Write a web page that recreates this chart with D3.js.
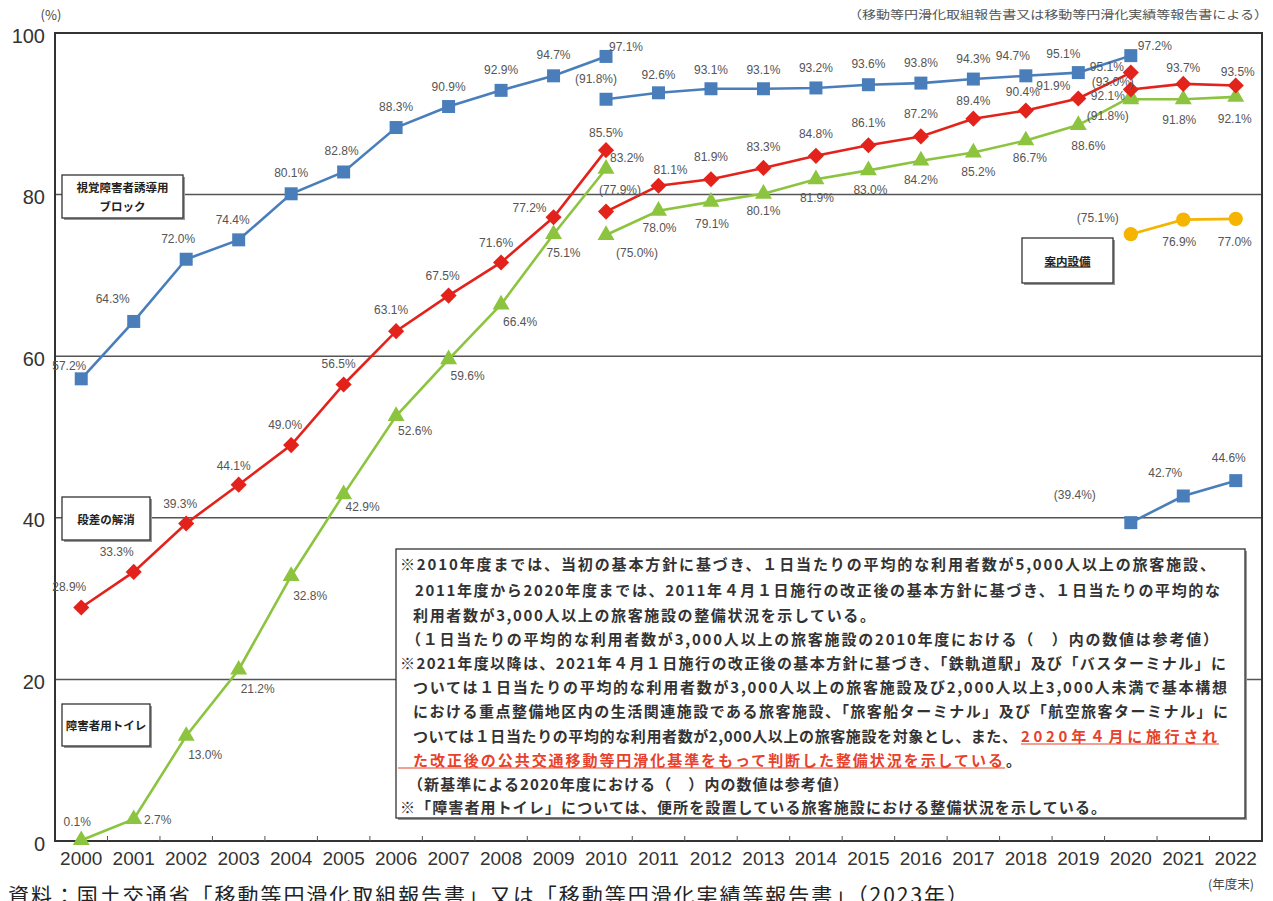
<!DOCTYPE html>
<html>
<head>
<meta charset="utf-8">
<script src="https://cdn.jsdelivr.net/npm/d3@7"></script>
<style>
  body { margin: 0; background: #fff; }
  svg { display: block; }
</style>
</head>
<body>
<div id="chart"></div>
<script>
// categories
const years = ['2000', '2001', '2002', '2003', '2004', '2005', '2006', '2007', '2008', '2009', '2010',
    '2011', '2012', '2013', '2014', '2015', '2016', '2017', '2018', '2019', '2020', '2021', '2022']
const yTicks = [0, 20, 40, 60, 80, 100]

// 視覚障害者誘導用ブロック
const blockOld = [57.2, 64.3, 72.0, 74.4, 80.1, 82.8, 88.3, 90.9, 92.9, 94.7, 97.1]
const blockMid = [91.8, 92.6, 93.1, 93.1, 93.2, 93.6, 93.8, 94.3, 94.7, 95.1, 97.2]
const blockNew = [39.4, 42.7, 44.6]
// 段差の解消
const stepOld = [28.9, 33.3, 39.3, 44.1, 49.0, 56.5, 63.1, 67.5, 71.6, 77.2, 85.5]
const stepMid = [77.9, 81.1, 81.9, 83.3, 84.8, 86.1, 87.2, 89.4, 90.4, 91.9, 95.1]
const stepNew = [93.0, 93.7, 93.5]
// 障害者用トイレ
const toiletOld = [0.1, 2.7, 13.0, 21.2, 32.8, 42.9, 52.6, 59.6, 66.4, 75.1, 83.2]
const toiletMid = [75.0, 78.0, 79.1, 80.1, 81.9, 83.0, 84.2, 85.2, 86.7, 88.6, 92.1]
const toiletNew = [91.8, 91.8, 92.1]
// 案内設備
const guideNew = [75.1, 76.9, 77.0]

// label offsets (px) relative to each marker
const blockOldOff = [[-12, -13], [-21, -22], [-8, -20], [-6, -20], [0, -21], [-2, -21], [0, -21], [0, -20], [0, -20], [0, -21], [20, -9]]
const blockMidOff = [[-10, -20], [0, -18], [0, -19], [0, -19], [0, -20], [0, -21], [0, -20], [0, -20], [-13, -20], [-15, -19], [24, -10]]
const blockNewOff = [[-56, -28], [-18, -23], [-7, -23]]
const stepOldOff = [[-12, -20], [-17, -20], [-6, -19], [-5, -19], [-6, -20], [-5, -20], [-5, -21], [-6, -20], [-5, -19], [-24, -9], [0, -17]]
const stepMidOff = [[14, -22], [12, -16], [0, -22], [0, -21], [0, -22], [0, -22], [0, -22], [0, -18], [-3, -19], [-25, -12], [-24, -6]]
const stepNewOff = [[-18, -8], [0, -16], [2, -14]]
const toiletOldOff = [[-4, -18], [24, 1], [19, 19], [19, 19], [19, 20], [19, 13], [19, 15], [19, 17], [19, 18], [10, 19], [21, -11]]
const toiletMidOff = [[31, 18], [1, 17], [1, 22], [0, 17], [1, 19], [2, 20], [0, 19], [5, 19], [4, 18], [10, 21], [-23, -1]]
const toiletNewOff = [[-23, 17], [-4, 21], [-1, 22]]
const guideNewOff = [[-33, -16], [-4, 22], [-1, 23]]

const noteLines = [
    { x: 400, y: 563, parts: [['※2010年度までは、当初の基本方針に基づき、１日当たりの平均的な利用者数が5,000人以上の旅客施設、', '#333', 815]] },
    { x: 415, y: 589, parts: [['2011年度から2020年度までは、2011年４月１日施行の改正後の基本方針に基づき、１日当たりの平均的な', '#333', 805]] },
    { x: 413, y: 614, parts: [['利用者数が3,000人以上の旅客施設の整備状況を示している。', '#333', 462]] },
    { x: 406, y: 638, parts: [['（１日当たりの平均的な利用者数が3,000人以上の旅客施設の2010年度における（　）内の数値は参考値）', '#333', 812]] },
    { x: 400, y: 662, parts: [['※2021年度以降は、2021年４月１日施行の改正後の基本方針に基づき、「鉄軌道駅」及び「バスターミナル」に', '#333', 826]] },
    { x: 413, y: 686, parts: [['ついては１日当たりの平均的な利用者数が3,000人以上の旅客施設及び2,000人以上3,000人未満で基本構想', '#333', 814]] },
    { x: 413, y: 710, parts: [['における重点整備地区内の生活関連施設である旅客施設、「旅客船ターミナル」及び「航空旅客ターミナル」に', '#333', 815]] },
    { x: 413, y: 735, parts: [['ついては１日当たりの平均的な利用者数が2,000人以上の旅客施設を対象とし、また、', '#333', 604], ['2020年４月に施行され', '#e8412b', 196]] },
    { x: 413, y: 759, parts: [['た改正後の公共交通移動等円滑化基準をもって判断した整備状況を示している', '#e8412b', 590], ['。', '#333', 12]] },
    { x: 408, y: 783, parts: [['（新基準による2020年度における（　）内の数値は参考値）', '#333', 440]] },
    { x: 400, y: 806, parts: [['※「障害者用トイレ」については、便所を設置している旅客施設における整備状況を示している。', '#333', 706]] }
]

const W = 1273, H = 901
const cjk = '"Noto Sans CJK JP", "Noto Sans", sans-serif'
const latin = '"Liberation Sans", Arial, sans-serif'

const svg = d3.select('#chart').append('svg')
    .attr('width', W)
    .attr('height', H)
    .style('background', '#fff')

const x = d3.scaleBand().domain(years).range([55, 1262])
const cx = d => x(d) + x.bandwidth() / 2
const y = d3.scaleLinear().domain([0, 100]).range([841, 33])

// grid lines
svg.append('g').selectAll('line').data([20, 40, 60, 80]).join('line')
    .attr('x1', 55).attr('x2', 1262)
    .attr('y1', d => y(d)).attr('y2', d => y(d))
    .attr('stroke', '#555').attr('stroke-width', 1.5)

// frame
svg.append('rect')
    .attr('x', 55).attr('y', y(100))
    .attr('width', 1262 - 55).attr('height', y(0) - y(100))
    .attr('fill', 'none').attr('stroke', '#333').attr('stroke-width', 2)

// small ticks at band boundaries
svg.append('g').selectAll('line').data(years.slice(1)).join('line')
    .attr('x1', d => x(d)).attr('x2', d => x(d))
    .attr('y1', y(0)).attr('y2', y(0) - 5)
    .attr('stroke', '#555').attr('stroke-width', 1)

// y axis
const yAxis = svg.append('g')
    .attr('transform', 'translate(45,0)')
    .call(d3.axisLeft(y).tickValues(yTicks).tickSize(0).tickPadding(0))
yAxis.select('.domain').remove()
yAxis.selectAll('text')
    .attr('font-family', latin).attr('font-size', 20).attr('fill', '#333').attr('dy', '0.45em')

// x axis
const xAxis = svg.append('g')
    .attr('transform', `translate(0,${y(0)})`)
    .call(d3.axisBottom(x).tickSize(0).tickPadding(17))
xAxis.select('.domain').remove()
xAxis.selectAll('text')
    .attr('font-family', latin).attr('font-size', 19).attr('fill', '#333').attr('dy', '0.35em')

svg.append('text').text('(%)')
    .attr('x', 51).attr('y', 20)
    .attr('text-anchor', 'middle')
    .attr('font-family', cjk).attr('font-size', 13).attr('fill', '#444')

svg.append('text').text('（移動等円滑化取組報告書又は移動等円滑化実績等報告書による）')
    .attr('x', 848).attr('y', 19)
    .attr('textLength', 420).attr('lengthAdjust', 'spacingAndGlyphs')
    .attr('font-family', cjk).attr('font-size', 11.5).attr('fill', '#555')

svg.append('text').text('(年度末)')
    .attr('x', 1231).attr('y', 889)
    .attr('text-anchor', 'middle')
    .attr('font-family', cjk).attr('font-size', 12.5).attr('fill', '#444')

svg.append('text').text('資料：国土交通省「移動等円滑化取組報告書」又は「移動等円滑化実績等報告書」（2023年）')
    .attr('x', 8).attr('y', 903)
    .attr('textLength', 960).attr('lengthAdjust', 'spacing')
    .attr('font-family', cjk).attr('font-size', 21).attr('fill', '#222')

// boxes
function box(bx, by, bw, bh) {
    svg.append('rect')
        .attr('x', bx + 2).attr('y', by + 2).attr('width', bw).attr('height', bh)
        .attr('fill', '#999')
    svg.append('rect')
        .attr('x', bx).attr('y', by).attr('width', bw).attr('height', bh)
        .attr('fill', '#fff').attr('stroke', '#333').attr('stroke-width', 1.3)
}

const legendBoxes = [
    { x: 62, y: 175, w: 121, h: 43, lines: ['視覚障害者誘導用', 'ブロック'] },
    { x: 62, y: 497, w: 88, h: 43, lines: ['段差の解消'] },
    { x: 62, y: 704, w: 88, h: 42, lines: ['障害者用トイレ'] },
    { x: 1022, y: 238, w: 91, h: 45, lines: ['案内設備'], underline: true }
]
legendBoxes.forEach(b => {
    box(b.x, b.y, b.w, b.h)
    const n = b.lines.length
    b.lines.forEach((t, i) => {
        svg.append('text').text(t)
            .attr('x', b.x + b.w / 2)
            .attr('y', b.y + b.h / 2 + (i - (n - 1) / 2) * 19)
            .attr('text-anchor', 'middle').attr('dominant-baseline', 'central')
            .attr('font-family', cjk).attr('font-size', 11.5).attr('font-weight', 'bold')
            .attr('fill', '#222')
            .attr('text-decoration', b.underline ? 'underline' : null)
    })
})

// note box
box(396, 549, 849, 269)
noteLines.forEach(l => {
    let px = l.x
    l.parts.forEach((p, k) => {
        if (k > 0 && p[0].startsWith('2020')) px = 1021
        svg.append('text').text(p[0])
            .attr('x', px).attr('y', l.y)
            .attr('dominant-baseline', 'central')
            .attr('textLength', p[2]).attr('lengthAdjust', 'spacing')
            .attr('font-family', cjk).attr('font-size', 15).attr('font-weight', 'bold')
            .attr('fill', p[1])
        if (p[1] !== '#333') {
            svg.append('line')
                .attr('x1', k === 0 ? 398 : px).attr('x2', px + p[2] + 2)
                .attr('y1', l.y + 9).attr('y2', l.y + 9)
                .attr('stroke', '#e8412b').attr('stroke-width', 1.2)
        }
        px += p[2] + 3
    })
})

// series
const blue = '#4a7ebb', red = '#e3231b', green = '#8cc43f', orange = '#f5b400'
const oldYears = years.slice(0, 11), midYears = years.slice(10, 21), newYears = years.slice(20)

const segments = [
    { yrs: oldYears, vals: blockOld, off: blockOldOff, color: blue, shape: 'square', ref: false },
    { yrs: midYears, vals: blockMid, off: blockMidOff, color: blue, shape: 'square', ref: true },
    { yrs: newYears, vals: blockNew, off: blockNewOff, color: blue, shape: 'square', ref: true },
    { yrs: oldYears, vals: toiletOld, off: toiletOldOff, color: green, shape: 'triangle', ref: false },
    { yrs: midYears, vals: toiletMid, off: toiletMidOff, color: green, shape: 'triangle', ref: true },
    { yrs: newYears, vals: toiletNew, off: toiletNewOff, color: green, shape: 'triangle', ref: true },
    { yrs: oldYears, vals: stepOld, off: stepOldOff, color: red, shape: 'diamond', ref: false },
    { yrs: midYears, vals: stepMid, off: stepMidOff, color: red, shape: 'diamond', ref: true },
    { yrs: newYears, vals: stepNew, off: stepNewOff, color: red, shape: 'diamond', ref: true },
    { yrs: newYears, vals: guideNew, off: guideNewOff, color: orange, shape: 'circle', ref: true }
]

const symbols = {
    square: d3.symbol(d3.symbolSquare, 169)(),
    diamond: d3.symbol(d3.symbolSquare, 130)(),
    triangle: d3.symbol(d3.symbolTriangle, 125)(),
    circle: d3.symbol(d3.symbolCircle, 160)()
}

const line = d3.line().x(d => cx(d.yr)).y(d => y(d.v))
const linesG = svg.append('g')
const marksG = svg.append('g')
const labelsG = svg.append('g')

segments.forEach(s => {
    const pts = s.vals.map((v, i) => ({ yr: s.yrs[i], v: v, off: s.off[i], ref: s.ref && i === 0 }))

    linesG.append('path')
        .attr('d', line(pts))
        .attr('fill', 'none')
        .attr('stroke', s.color)
        .attr('stroke-width', 2.6)

    marksG.selectAll(null).data(pts).join('path')
        .attr('d', symbols[s.shape])
        .attr('transform', d => `translate(${cx(d.yr)},${y(d.v)})` + (s.shape === 'diamond' ? ' rotate(45)' : ''))
        .attr('fill', s.color)

    labelsG.selectAll(null).data(pts).join('text')
        .text(d => d.ref ? `(${d.v.toFixed(1)}%)` : `${d.v.toFixed(1)}%`)
        .attr('x', d => cx(d.yr) + d.off[0])
        .attr('y', d => y(d.v) + d.off[1])
        .attr('text-anchor', 'middle').attr('dominant-baseline', 'central')
        .attr('font-family', latin).attr('font-size', 12).attr('fill', '#555')
})
</script>
</body>
</html>
